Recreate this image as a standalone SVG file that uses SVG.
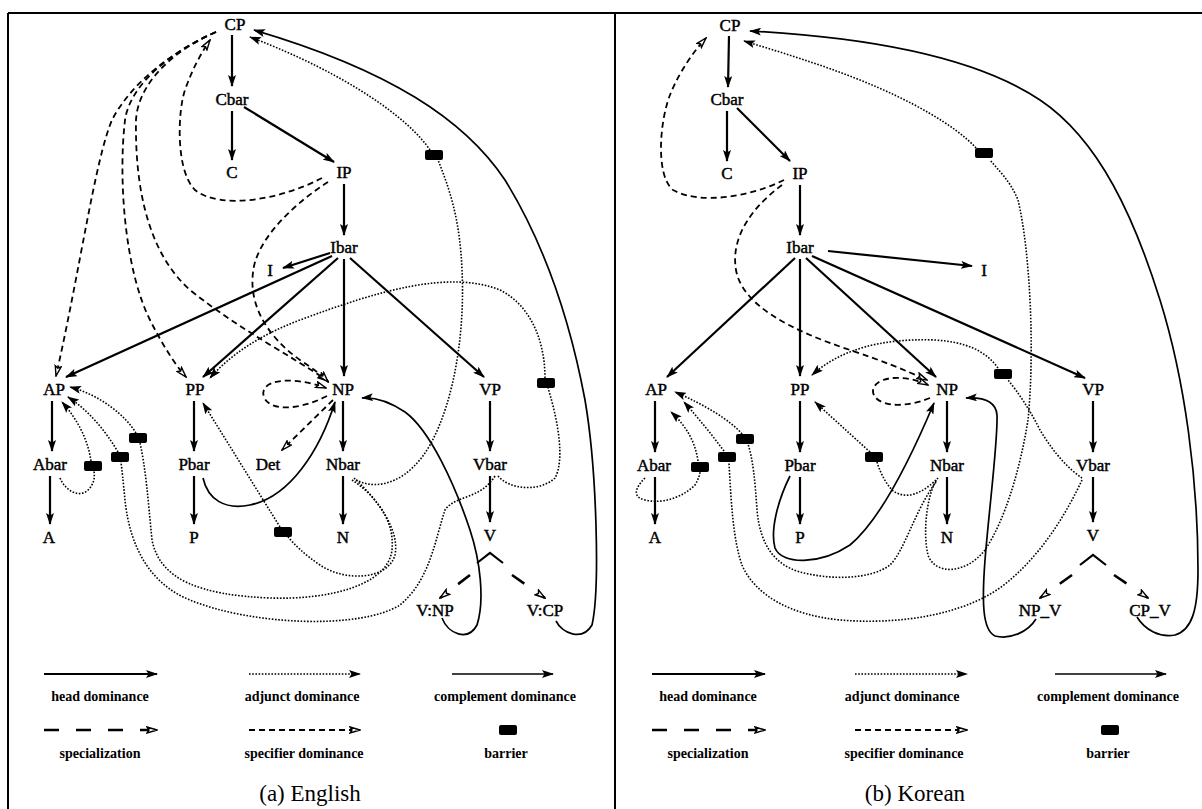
<svg xmlns="http://www.w3.org/2000/svg" width="1202" height="809" viewBox="0 0 1202 809">
<style>
  .lbl{font-family:"Liberation Serif","Times New Roman",serif;font-size:17px;fill:#000;stroke:#000;stroke-width:0.45;text-anchor:middle;dominant-baseline:central}
  .leg{font-family:"Liberation Serif","Times New Roman",serif;font-size:14px;font-weight:bold;fill:#000;text-anchor:middle;dominant-baseline:central}
  .cap{font-family:"Liberation Serif","Times New Roman",serif;font-size:23px;fill:#000;text-anchor:middle;dominant-baseline:central}
  .frame{stroke:#000;stroke-width:2;fill:none}
  .head{stroke:#000;stroke-width:2.2;fill:none;marker-end:url(#arr)}
  .comp{stroke:#000;stroke-width:1.7;fill:none;marker-end:url(#arr)}
  .adj{stroke:#000;stroke-width:1.6;fill:none;stroke-dasharray:1.6 1.6}
  .adja{stroke:#000;stroke-width:1.6;fill:none;stroke-dasharray:1.6 1.6;marker-end:url(#arr)}
  .spec{stroke:#000;stroke-width:1.8;fill:none;stroke-dasharray:6 4;marker-end:url(#open)}
  .spz{stroke:#000;stroke-width:2.6;fill:none;stroke-dasharray:15 17;marker-end:url(#open)}
  .caret{stroke:#000;stroke-width:2.2;fill:none}
</style>
<defs>
  <marker id="arr" viewBox="0 0 12 8" refX="11" refY="4" markerWidth="12" markerHeight="8" markerUnits="userSpaceOnUse" orient="auto">
    <path d="M0,0 L12,4 L0,8 L2.5,4 z" fill="#000"/>
  </marker>
  <marker id="open" viewBox="0 0 12 8" refX="11" refY="4" markerWidth="12" markerHeight="8" markerUnits="userSpaceOnUse" orient="auto">
    <path d="M1,1 L11,4 L1,7 L3,4 z" fill="#fff" stroke="#000" stroke-width="1.4"/>
  </marker>
  <rect id="barrier" x="-9" y="-5" width="18" height="10" rx="2" fill="#000"/>
</defs>

<!-- frames -->
<g id="frame">
  <path class="frame" d="M8,13 L1202,13 M8,13 L8,809 M615,13 L615,809"/>
</g>

<!-- ============ (a) English ============ -->
<g id="english-connectors">
  <!-- head / complement dominance -->
  <path class="head" d="M232,35 L232,86"/>
  <path class="head" d="M232,111 L232,160"/>
  <path class="head" d="M244,107 L334,162"/>
  <path class="head" d="M344,184 L344,235"/>
  <path class="head" d="M330,253 L283,268"/>
  <path class="head" d="M332,256 L66,377"/>
  <path class="head" d="M338,258 L203,377"/>
  <path class="head" d="M344,259 L344,376"/>
  <path class="head" d="M350,258 L484,377"/>
  <path class="head" d="M52,401 L52,451"/>
  <path class="head" d="M50,476 L50,524"/>
  <path class="head" d="M194,401 L194,451"/>
  <path class="head" d="M194,476 L194,524"/>
  <path class="head" d="M343,401 L343,451"/>
  <path class="head" d="M343,476 L343,524"/>
  <path class="head" d="M490,401 L490,451"/>
  <path class="head" d="M490,476 L490,522"/>
  <path class="comp" d="M556,621 C562,633 582,642 592,625 C600,590 597,470 585,400 C570,320 545,245 505,180 C465,120 390,70 254,30"/>
  <path class="comp" d="M442,618 C448,634 468,642 477,625 C485,600 480,560 470,530 C455,485 430,430 405,412 C390,402 375,397 362,398"/>
  <path class="comp" d="M203,478 C208,500 225,510 250,505 C290,497 320,450 335,402"/>
  <!-- specifier dominance -->
  <path class="spec" d="M322,178 C280,200 220,210 195,190 C175,170 178,110 185,90 C192,70 200,55 210,40"/>
  <path class="spec" d="M216,32 C170,52 130,85 112,120 C95,160 80,270 56,376"/>
  <path class="spec" d="M216,32 C170,52 130,85 125,120 C118,180 125,270 150,320 C165,350 178,368 186,377"/>
  <path class="spec" d="M216,32 C170,52 138,85 136,120 C135,180 145,250 190,290 C240,330 290,355 328,381"/>
  <path class="spec" d="M328,182 C300,200 265,230 255,262 C245,300 265,335 300,360 C312,368 322,375 328,382"/>
  <path class="spec" d="M327,396 C300,410 270,412 264,397 C258,380 290,375 326,388"/>
  <path class="spec" d="M333,400 L282,450"/>
  <!-- specialization -->
  <path class="caret" d="M477,563 L490,553 L503,563"/>
  <path class="spz" d="M470,575 L440,598"/>
  <path class="spz" d="M512,575 L545,598"/>
  <!-- adjunct dominance -->
  <path class="adj" d="M356,480 C380,492 410,480 430,445 C455,400 465,330 462,270 C460,220 450,190 438,160"/>
  <path class="adja" d="M430,150 C410,120 350,75 250,37"/>
  <path class="adj" d="M498,476 C510,490 540,492 555,478 C565,460 558,420 548,388"/>
  <path class="adja" d="M545,378 C545,340 530,305 500,290 C450,270 380,290 300,320 C260,335 230,355 210,378"/>
  <path class="adj" d="M495,476 C480,500 455,495 445,510 C435,540 430,580 400,605 C360,630 250,625 190,600 C140,580 128,530 125,500 C123,480 122,470 121,462"/>
  <path class="adja" d="M118,452 C105,430 88,410 68,397"/>
  <path class="adj" d="M352,480 C375,495 395,520 392,550 C388,585 330,600 270,598 C200,595 160,580 152,540 C148,500 146,470 140,443"/>
  <path class="adja" d="M136,433 C125,415 100,395 70,387"/>
  <path class="adj" d="M60,478 C66,492 80,498 88,490 C94,484 95,478 94,471"/>
  <path class="adja" d="M91,461 C88,440 78,420 62,402"/>
  <path class="adj" d="M354,478 C378,500 400,530 395,555 C388,580 345,582 320,565 C305,555 295,545 288,537"/>
  <path class="adja" d="M280,527 L203,403"/>
</g>
<g id="english-barriers">
  <use href="#barrier" x="434" y="155"/>
  <use href="#barrier" x="546" y="383"/>
  <use href="#barrier" x="93" y="466"/>
  <use href="#barrier" x="120" y="457"/>
  <use href="#barrier" x="138" y="438"/>
  <use href="#barrier" x="283" y="532"/>
</g>
<g id="en-CP"><text class="lbl" x="235" y="24">CP</text></g>
<g id="en-Cbar"><text class="lbl" x="232" y="99">Cbar</text></g>
<g id="en-C"><text class="lbl" x="232" y="172">C</text></g>
<g id="en-IP"><text class="lbl" x="344" y="172">IP</text></g>
<g id="en-Ibar"><text class="lbl" x="344" y="247">Ibar</text></g>
<g id="en-I"><text class="lbl" x="270" y="270">I</text></g>
<g id="en-AP"><text class="lbl" x="54" y="389">AP</text></g>
<g id="en-PP"><text class="lbl" x="195" y="389">PP</text></g>
<g id="en-NP"><text class="lbl" x="343" y="389">NP</text></g>
<g id="en-VP"><text class="lbl" x="490" y="389">VP</text></g>
<g id="en-Abar"><text class="lbl" x="50" y="464">Abar</text></g>
<g id="en-Pbar"><text class="lbl" x="194" y="464">Pbar</text></g>
<g id="en-Det"><text class="lbl" x="268" y="464">Det</text></g>
<g id="en-Nbar"><text class="lbl" x="343" y="464">Nbar</text></g>
<g id="en-Vbar"><text class="lbl" x="490" y="464">Vbar</text></g>
<g id="en-A"><text class="lbl" x="49" y="537">A</text></g>
<g id="en-P"><text class="lbl" x="194" y="537">P</text></g>
<g id="en-N"><text class="lbl" x="343" y="537">N</text></g>
<g id="en-V"><text class="lbl" x="490" y="535">V</text></g>
<g id="en-VNP"><text class="lbl" x="435" y="610">V:NP</text></g>
<g id="en-VCP"><text class="lbl" x="545" y="610">V:CP</text></g>

<g id="english-legend">
  <path class="head" d="M44,674 L157,674"/>
  <path class="adja" d="M249,674 L360,674"/>
  <path class="comp" d="M452,674 L553,674"/>
  <path class="spz" d="M44,730 L157,730"/>
  <path class="spec" d="M249,730 L360,730"/>
  <use href="#barrier" x="508" y="730"/>
  <text class="leg" x="100" y="696">head dominance</text>
  <text class="leg" x="302" y="696">adjunct dominance</text>
  <text class="leg" x="505" y="696">complement dominance</text>
  <text class="leg" x="100" y="753">specialization</text>
  <text class="leg" x="304" y="753">specifier dominance</text>
  <text class="leg" x="506" y="753">barrier</text>
  <text class="cap" x="310" y="793">(a) English</text>
</g>

<!-- ============ (b) Korean ============ -->
<g id="korean-connectors">
  <path class="head" d="M729,36 L728,87"/>
  <path class="head" d="M727,111 L727,161"/>
  <path class="head" d="M737,108 L790,161"/>
  <path class="head" d="M800,185 L800,235"/>
  <path class="head" d="M828,251 L972,266"/>
  <path class="head" d="M795,258 L667,377"/>
  <path class="head" d="M800,259 L800,376"/>
  <path class="head" d="M806,258 L936,377"/>
  <path class="head" d="M812,256 L1085,378"/>
  <path class="head" d="M655,401 L655,452"/>
  <path class="head" d="M655,477 L655,524"/>
  <path class="head" d="M800,401 L800,452"/>
  <path class="head" d="M800,477 L800,524"/>
  <path class="head" d="M947,401 L947,452"/>
  <path class="head" d="M947,477 L947,524"/>
  <path class="head" d="M1093,401 L1093,452"/>
  <path class="head" d="M1093,477 L1093,522"/>
  <path class="comp" d="M1137,617 C1145,630 1160,638 1175,635 C1192,630 1198,610 1198,570 C1198,480 1185,380 1160,300 C1135,220 1100,140 1040,100 C980,60 880,38 750,31"/>
  <path class="comp" d="M1036,619 C1028,632 1010,640 995,636 C982,630 982,600 985,560 C990,500 998,440 997,415 C996,402 985,397 966,398"/>
  <path class="comp" d="M790,476 C778,500 770,530 775,548 C782,565 820,565 850,545 C880,520 910,460 934,403"/>
  <path class="spec" d="M784,180 C750,197 700,205 673,190 C655,175 660,120 670,95 C680,70 695,50 706,38"/>
  <path class="spec" d="M782,185 C755,205 730,235 736,270 C742,305 790,330 850,350 C880,360 905,370 927,380"/>
  <path class="spec" d="M930,398 C900,410 875,405 873,392 C872,378 900,372 928,385"/>
  <path class="caret" d="M1080,565 L1093,555 L1106,565"/>
  <path class="spz" d="M1072,575 L1040,598"/>
  <path class="spz" d="M1114,575 L1148,598"/>
  <path class="adj" d="M938,478 C928,490 922,530 928,555 C935,575 965,575 985,550 C1005,520 1020,470 1028,420 C1035,350 1030,250 1018,200 C1010,180 998,170 990,160"/>
  <path class="adja" d="M976,148 C955,125 910,100 860,80 C820,64 780,52 744,41"/>
  <path class="adj" d="M1082,478 C1070,470 1055,455 1040,430 C1030,410 1018,392 1008,380"/>
  <path class="adja" d="M998,368 C985,350 965,342 935,340 C880,338 840,350 812,375"/>
  <path class="adj" d="M1082,480 C1068,510 1045,550 1010,580 C970,615 900,625 840,620 C790,615 755,595 742,565 C733,540 731,500 729,463"/>
  <path class="adja" d="M724,451 C712,435 700,420 684,402"/>
  <path class="adj" d="M936,482 C915,510 905,550 890,565 C870,580 830,580 800,572 C775,565 760,545 757,510 C755,480 753,460 748,444"/>
  <path class="adja" d="M742,434 C730,420 705,405 675,392"/>
  <path class="adj" d="M645,478 C635,488 632,497 645,500 C665,505 685,495 695,485 C699,478 700,474 700,472"/>
  <path class="adja" d="M698,461 C695,440 685,425 671,412"/>
  <path class="adj" d="M936,480 C920,495 905,500 892,490 C885,482 880,472 877,462"/>
  <path class="adja" d="M870,452 L815,402"/>
</g>
<g id="korean-barriers">
  <use href="#barrier" x="984" y="153"/>
  <use href="#barrier" x="1003" y="374"/>
  <use href="#barrier" x="700" y="467"/>
  <use href="#barrier" x="727" y="457"/>
  <use href="#barrier" x="745" y="439"/>
  <use href="#barrier" x="874" y="457"/>
</g>
<g id="ko-CP"><text class="lbl" x="730" y="25">CP</text></g>
<g id="ko-Cbar"><text class="lbl" x="727" y="99">Cbar</text></g>
<g id="ko-C"><text class="lbl" x="727" y="173">C</text></g>
<g id="ko-IP"><text class="lbl" x="800" y="173">IP</text></g>
<g id="ko-Ibar"><text class="lbl" x="800" y="247">Ibar</text></g>
<g id="ko-I"><text class="lbl" x="984" y="270">I</text></g>
<g id="ko-AP"><text class="lbl" x="656" y="389">AP</text></g>
<g id="ko-PP"><text class="lbl" x="800" y="389">PP</text></g>
<g id="ko-NP"><text class="lbl" x="947" y="389">NP</text></g>
<g id="ko-VP"><text class="lbl" x="1093" y="389">VP</text></g>
<g id="ko-Abar"><text class="lbl" x="654" y="465">Abar</text></g>
<g id="ko-Pbar"><text class="lbl" x="800" y="465">Pbar</text></g>
<g id="ko-Nbar"><text class="lbl" x="947" y="465">Nbar</text></g>
<g id="ko-Vbar"><text class="lbl" x="1093" y="465">Vbar</text></g>
<g id="ko-A"><text class="lbl" x="655" y="537">A</text></g>
<g id="ko-P"><text class="lbl" x="800" y="537">P</text></g>
<g id="ko-N"><text class="lbl" x="947" y="537">N</text></g>
<g id="ko-V"><text class="lbl" x="1093" y="535">V</text></g>
<g id="ko-NPV"><text class="lbl" x="1040" y="610">NP_V</text></g>
<g id="ko-CPV"><text class="lbl" x="1150" y="610">CP_V</text></g>

<g id="korean-legend">
  <path class="head" d="M652,674 L765,674"/>
  <path class="adja" d="M855,674 L967,674"/>
  <path class="comp" d="M1055,674 L1166,674"/>
  <path class="spz" d="M652,730 L765,730"/>
  <path class="spec" d="M855,730 L967,730"/>
  <use href="#barrier" x="1110" y="730"/>
  <text class="leg" x="708" y="696">head dominance</text>
  <text class="leg" x="902" y="696">adjunct dominance</text>
  <text class="leg" x="1108" y="696">complement dominance</text>
  <text class="leg" x="708" y="753">specialization</text>
  <text class="leg" x="904" y="753">specifier dominance</text>
  <text class="leg" x="1108" y="753">barrier</text>
  <text class="cap" x="915" y="793">(b) Korean</text>
</g>
</svg>
